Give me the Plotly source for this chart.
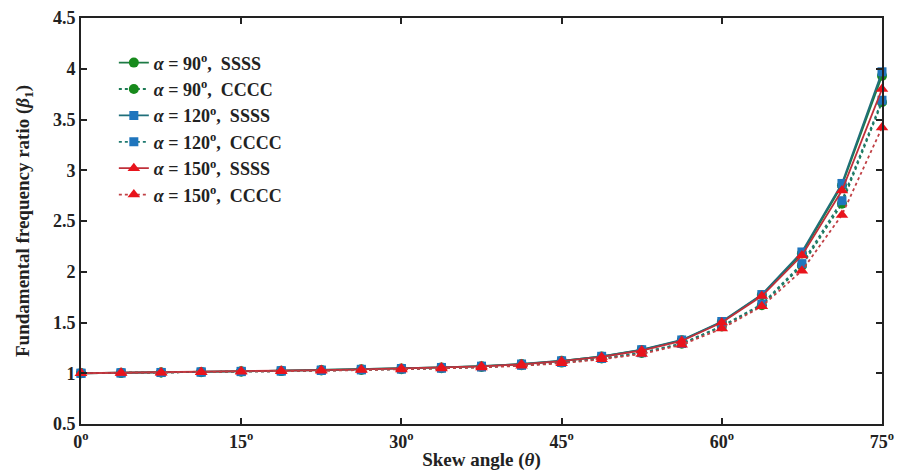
import plotly.graph_objects as go

theta = [0, 3.75, 7.5, 11.25, 15, 18.75, 22.5, 26.25, 30, 33.75, 37.5,
         41.25, 45, 48.75, 52.5, 56.25, 60, 63.75, 67.5, 71.25, 75]

ss90 = [1.000, 1.004, 1.008, 1.013, 1.019, 1.025, 1.032, 1.039, 1.047, 1.057, 1.070,
        1.090, 1.122, 1.165, 1.230, 1.325, 1.505, 1.770, 2.180, 2.850, 3.930]
cc90 = [1.000, 1.003, 1.007, 1.011, 1.016, 1.021, 1.027, 1.033, 1.040, 1.049, 1.061,
        1.078, 1.105, 1.145, 1.200, 1.290, 1.460, 1.670, 2.060, 2.670, 3.670]
ss120 = [1.000, 1.004, 1.008, 1.013, 1.019, 1.025, 1.032, 1.039, 1.047, 1.057, 1.070,
         1.091, 1.123, 1.167, 1.232, 1.328, 1.510, 1.775, 2.195, 2.870, 3.970]
cc120 = [1.000, 1.003, 1.007, 1.011, 1.016, 1.021, 1.027, 1.033, 1.040, 1.049, 1.061,
         1.078, 1.106, 1.146, 1.202, 1.293, 1.465, 1.680, 2.080, 2.700, 3.690]
ss150 = [1.000, 1.004, 1.008, 1.013, 1.019, 1.025, 1.031, 1.038, 1.046, 1.056, 1.068,
         1.088, 1.119, 1.161, 1.224, 1.318, 1.500, 1.760, 2.160, 2.800, 3.800]
cc150 = [1.000, 1.003, 1.006, 1.010, 1.015, 1.020, 1.025, 1.031, 1.038, 1.046, 1.057,
         1.073, 1.099, 1.137, 1.190, 1.280, 1.440, 1.660, 2.010, 2.560, 3.420]

x_ticks = [0, 15, 30, 45, 60, 75]
x_ticktext = ["0<sup>o</sup>", "15<sup>o</sup>", "30<sup>o</sup>", "45<sup>o</sup>",
              "60<sup>o</sup>", "75<sup>o</sup>"]
y_ticks = [0.5, 1, 1.5, 2, 2.5, 3, 3.5, 4, 4.5]
y_ticktext = ["0.5", "1", "1.5", "2", "2.5", "3", "3.5", "4", "4.5"]

series = [
    ("<b><i>α</i> = 90<sup>o</sup>,  SSSS</b>", ss90, "solid", "circle", 10, "#178a1c", "#1d7a45"),
    ("<b><i>α</i> = 90<sup>o</sup>,  CCCC</b>", cc90, "3px,3px", "circle", 10, "#178a1c", "#1d7a55"),
    ("<b><i>α</i> = 120<sup>o</sup>,  SSSS</b>", ss120, "solid", "square", 9, "#1f75bd", "#1f6f7a"),
    ("<b><i>α</i> = 120<sup>o</sup>,  CCCC</b>", cc120, "3px,3px", "square", 9, "#1f75bd", "#1f7a70"),
    ("<b><i>α</i> = 150<sup>o</sup>,  SSSS</b>", ss150, "solid", "triangle-up", 11, "#e8141c", "#c0303a"),
    ("<b><i>α</i> = 150<sup>o</sup>,  CCCC</b>", cc150, "3px,3px", "triangle-up", 11, "#e8141c", "#c04045"),
]

fig = go.Figure()
for name, ys, dash, sym, size, mcol, lcol in series:
    fig.add_trace(go.Scatter(
        x=theta, y=ys, name=name, mode="lines+markers",
        line=dict(color=lcol, width=1.8, dash=dash),
        marker=dict(symbol=sym, size=size, color=mcol),
        cliponaxis=False,
    ))

font_family = "Liberation Serif, Times New Roman, serif"
fig.update_layout(
    width=897, height=473,
    margin=dict(l=81, r=15, t=18, b=49, autoexpand=False),
    paper_bgcolor="white", plot_bgcolor="white",
    font=dict(family=font_family, color="#222", size=18),
    showlegend=True,
    legend=dict(
        x=0.041, y=0.935, xanchor="left", yanchor="top",
        bgcolor="rgba(0,0,0,0)", font=dict(size=18, family=font_family, color="#222"),
        tracegroupgap=0, itemwidth=30,
    ),
    xaxis=dict(
        range=[0, 75], tickvals=x_ticks, ticktext=["<b>%s</b>" % t for t in x_ticktext],
        showgrid=False, zeroline=False, automargin=False,
        showline=True, linecolor="#222", linewidth=2, mirror="ticks",
        ticks="inside", ticklen=6, tickwidth=1.5, tickcolor="#222",
        tickfont=dict(size=18, family=font_family),
        title=dict(text="<b>Skew angle (<i>θ</i>)</b>", font=dict(size=19), standoff=2),
    ),
    yaxis=dict(
        range=[0.5, 4.5], tickvals=y_ticks, ticktext=["<b>%s</b>" % t for t in y_ticktext],
        showgrid=False, zeroline=False, automargin=False,
        showline=True, linecolor="#222", linewidth=2, mirror="ticks",
        ticks="inside", ticklen=6, tickwidth=1.5, tickcolor="#222",
        tickfont=dict(size=18, family=font_family),
        title=dict(text="<b>Fundamental frequency ratio (<i>β</i><sub>1</sub>)</b>", font=dict(size=19), standoff=18),
    ),
)

fig.write_html("out.html")
